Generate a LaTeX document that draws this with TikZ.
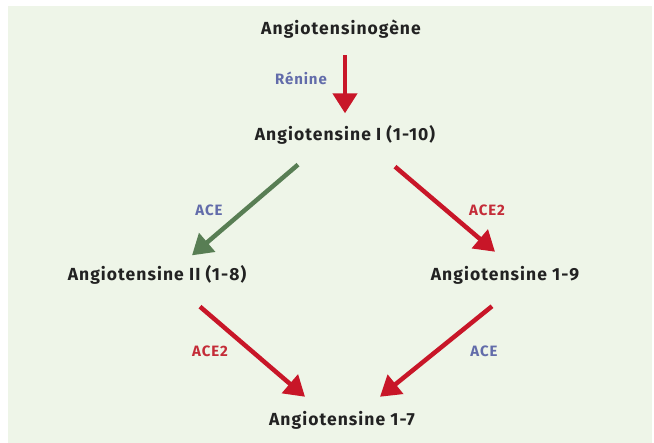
\documentclass[tikz,border=0pt]{standalone}
\usepackage{fontspec}
\setmainfont{Fira Sans}[LetterSpace=6]
\usetikzlibrary{arrows.meta}
\definecolor{bgreen}{RGB}{238,245,232}
\definecolor{ared}{RGB}{200,22,40}
\definecolor{agreen}{RGB}{88,126,84}
\definecolor{lblue}{RGB}{98,108,170}
\definecolor{lred}{RGB}{196,44,56}
\definecolor{tblack}{RGB}{34,34,34}
\tikzset{
  mol/.style={font=\bfseries\fontsize{17.5}{20}\selectfont, text=tblack, inner sep=0pt},
  enz/.style={font=\bfseries\fontsize{15}{17}\selectfont, inner sep=0pt},
  bigarrow/.style={line width=4.5pt, -{Triangle[width=24pt,length=20pt]}},
}
\begin{document}
\begin{tikzpicture}[x=1pt,y=-1pt]
\useasboundingbox (0,0) rectangle (654,443);
\fill[white] (0,0) rectangle (654,443);
\fill[bgreen] (8,6) rectangle (652,443);
\node[mol] (n0) at (341,29) {Angiotensinogène};
\node[mol] (n1) at (345,135) {Angiotensine I (1-10)};
\node[mol] (n2) at (157,275) {Angiotensine II (1-8)};
\node[mol] (n3) at (505,275) {Angiotensine 1-9};
\node[mol] (n4) at (342,420) {Angiotensine 1-7};
\node[enz, text=lblue] (e0) at (301,78) {Rénine};
\node[enz, text=lblue] (e1) at (209,210) {ACE};
\node[enz, text=lred] (e2) at (487,210) {ACE2};
\node[enz, text=lred] (e3) at (210,351) {ACE2};
\node[enz, text=lblue] (e4) at (484,351) {ACE};
\draw[bigarrow, ared] ([xshift=4pt,yshift=-17pt]n0.south) -- ([yshift=12pt]n1.north);
\draw[bigarrow, agreen] ([xshift=-47pt,yshift=-20pt]n1.south) -- ([xshift=35pt,yshift=10pt]n2.north);
\draw[bigarrow, ared] ([xshift=50pt,yshift=-22pt]n1.south) -- ([xshift=-10pt,yshift=14pt]n3.north);
\draw[bigarrow, ared] ([xshift=43pt,yshift=-22pt]n2.south) -- ([xshift=-37pt,yshift=14pt]n4.north);
\draw[bigarrow, ared] ([xshift=-13pt,yshift=-22pt]n3.south) -- ([xshift=38pt,yshift=14pt]n4.north);
\end{tikzpicture}
\end{document}
